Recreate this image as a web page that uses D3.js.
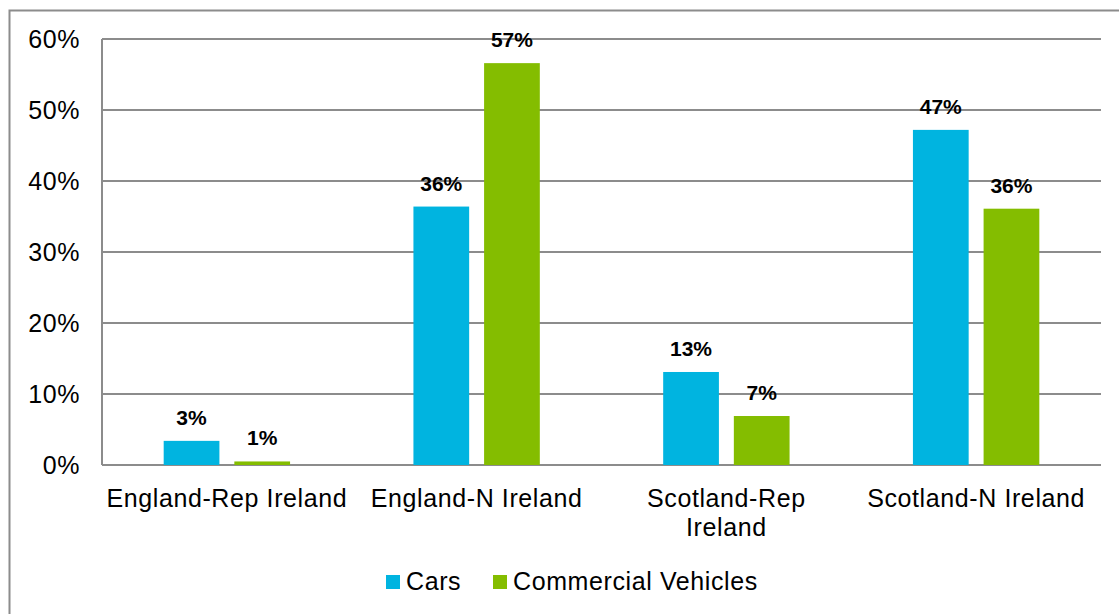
<!DOCTYPE html>
<html lang="en">
<head>
    <meta charset="UTF-8">
    <title>Cars and Commercial Vehicles by Route</title>
    <script src="https://d3js.org/d3.v7.min.js"></script>
    <style>
        body { margin: 0; background: white; }
        svg { display: block; font-family: "Liberation Sans", Arial, sans-serif; }
        .grid line { stroke: #8c8c8c; stroke-width: 2; }
        .tick-label { font-size: 25px; letter-spacing: 0.6px; fill: #000; }
        .bar-label { font-size: 21px; font-weight: bold; fill: #000; text-anchor: middle; }
    </style>
</head>
<body>
    <svg id="chart"></svg>

    <script>
        const categories = ["England-Rep Ireland", "England-N Ireland", "Scotland-Rep Ireland", "Scotland-N Ireland"];
        const categoryLines = [["England-Rep Ireland"], ["England-N Ireland"], ["Scotland-Rep", "Ireland"], ["Scotland-N Ireland"]];
        const series = ["Cars", "Commercial Vehicles"];
        const cars = [3.4, 36.4, 13.1, 47.2];
        const commercial = [0.5, 56.6, 6.9, 36.1];
        const yTicks = [0, 10, 20, 30, 40, 50, 60];
        const colors = ["#00b4e0", "#84bd00"];

        const width = 1119, height = 614;
        const svg = d3.select("#chart").attr("width", width).attr("height", height);

        // outer chart border
        svg.append("rect")
            .attr("x", 9.5).attr("y", 10.5)
            .attr("width", width + 10).attr("height", height + 10)
            .attr("fill", "none").attr("stroke", "#8c8c8c").attr("stroke-width", 2);

        const plotLeft = 102, plotRight = 1101, plotTop = 39, plotBottom = 465;

        const x0 = d3.scaleBand().domain(categories).range([plotLeft, plotRight]).padding(0);
        const x1 = d3.scaleBand().domain(series).range([0, x0.bandwidth()])
            .paddingInner(0.2113).paddingOuter(0.873);
        const y = d3.scaleLinear().domain([0, 60]).range([plotBottom, plotTop]);

        // gridlines
        const grid = svg.append("g").attr("class", "grid");
        grid.selectAll("line")
            .data(yTicks)
            .enter().append("line")
            .attr("x1", plotLeft).attr("x2", plotRight)
            .attr("y1", d => y(d)).attr("y2", d => y(d));

        // vertical axis line
        svg.append("line")
            .attr("x1", plotLeft).attr("x2", plotLeft)
            .attr("y1", plotTop).attr("y2", plotBottom)
            .attr("stroke", "#8c8c8c").attr("stroke-width", 2);

        // y tick labels
        svg.selectAll(".ytick")
            .data(yTicks)
            .enter().append("text")
            .attr("class", "tick-label ytick")
            .attr("x", 80)
            .attr("y", d => y(d) + 8.5)
            .attr("text-anchor", "end")
            .text(d => d + "%");

        // bars
        const rows = categories.map((c, i) => ({ cat: c, values: [cars[i], commercial[i]] }));
        const groups = svg.selectAll(".group")
            .data(rows)
            .enter().append("g")
            .attr("class", "group")
            .attr("transform", d => `translate(${x0(d.cat)},0)`);

        groups.selectAll("rect")
            .data(d => d.values.map((v, j) => ({ s: series[j], v: v, j: j })))
            .enter().append("rect")
            .attr("x", d => x1(d.s))
            .attr("width", x1.bandwidth())
            .attr("y", d => y(d.v))
            .attr("height", d => y(0) - y(d.v))
            .attr("fill", d => colors[d.j]);

        groups.selectAll(".bar-label")
            .data(d => d.values.map((v, j) => ({ s: series[j], v: v })))
            .enter().append("text")
            .attr("class", "bar-label")
            .attr("x", d => x1(d.s) + x1.bandwidth() / 2)
            .attr("y", d => y(d.v) - 16)
            .text(d => Math.round(d.v) + "%");

        // category labels
        categories.forEach((c, i) => {
            const cx = x0(c) + x0.bandwidth() / 2;
            const t = svg.append("text")
                .attr("class", "tick-label")
                .attr("text-anchor", "middle")
                .attr("x", cx)
                .attr("y", 507);
            categoryLines[i].forEach((line, k) => {
                t.append("tspan")
                    .attr("x", cx)
                    .attr("dy", k === 0 ? 0 : 28.5)
                    .text(line);
            });
        });

        // legend
        const legendItems = [{ name: series[0], x: 386 }, { name: series[1], x: 493 }];
        legendItems.forEach((d, i) => {
            svg.append("rect")
                .attr("x", d.x).attr("y", 575)
                .attr("width", 14).attr("height", 14)
                .attr("fill", colors[i]);
            svg.append("text")
                .attr("class", "tick-label")
                .attr("x", d.x + 20).attr("y", 590)
                .text(d.name);
        });
    </script>
</body>
</html>
